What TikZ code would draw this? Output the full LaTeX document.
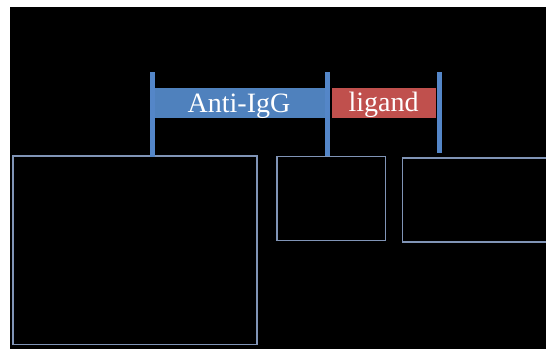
\documentclass[tikz,border=0pt]{standalone}
\usepackage{fontspec}
\setmainfont{Liberation Serif}
\definecolor{barblue}{RGB}{79,129,189}
\definecolor{postblue}{RGB}{84,134,200}
\definecolor{bandred}{RGB}{192,80,77}
\definecolor{framegray}{RGB}{128,148,182}
\tikzset{
  band/.style={fill=#1, draw=none, inner sep=0pt, minimum height=30pt},
  bandtext/.style={text=white, font=\fontsize{28}{28}\selectfont, anchor=base, inner sep=0pt},
  post/.style={draw=postblue, line width=5pt},
  frame/.style={draw=framegray, line width=1.5pt, inner sep=0pt, anchor=north west}
}
\begin{document}
\begin{tikzpicture}[x=1pt, y=-1pt]
  % page margins and dark field
  \fill[white] (0,0) rectangle (546,349);
  \useasboundingbox (0,0) rectangle (546,349);
  \fill[black] (10,7) rectangle (546,349);
  \clip (10,7) rectangle (546,349);

  % the two labelled segments
  \node[band=barblue, minimum width=174pt] (antiigg) at (241,102.5) {};
  \node[band=bandred, minimum width=104pt] (ligand) at (383.5,102.5) {};
  \node[bandtext] (antiiggtext) at (239,112) {Anti-IgG};
  \node[bandtext] (ligandtext) at (383.5,111) {ligand};

  % outlined boxes below
  \node[frame, minimum width=244pt, minimum height=188.5pt] (boxa) at (12,155) {};
  \node[frame, minimum width=108.5pt, minimum height=84pt] (boxb) at (276,155.5) {};
  \node[frame, minimum width=160pt, minimum height=84pt] (boxc) at (401.5,157) {};

  % posts marking the segment ends
  \coordinate (pa) at (152.5,72);
  \coordinate (pb) at (327.5,72);
  \coordinate (pc) at (439.5,72);
  \draw[post] (pa) -- ([yshift=-2pt]pa |- boxa.north);
  \draw[post] (pb) -- (pb |- boxb.north);
  \draw[post] (pc) -- ([yshift=4pt]pc |- boxc.north);
\end{tikzpicture}
\end{document}
